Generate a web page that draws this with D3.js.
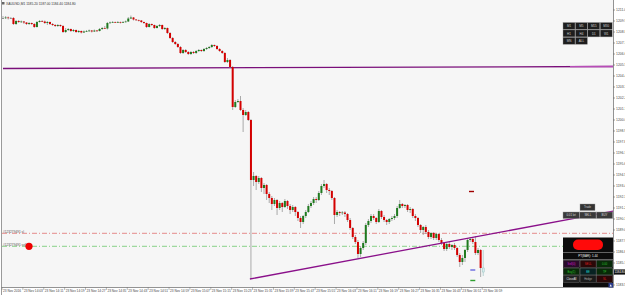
<!DOCTYPE html>
<html>
<head>
<meta charset="utf-8">
<script src="https://cdn.jsdelivr.net/npm/d3@7"></script>
<style>
  html, body { margin: 0; padding: 0; background: #fff; }
  svg { display: block; }
  text { font-family: "Liberation Sans", Arial, sans-serif; }
</style>
</head>
<body>
<svg id="chart" width="625" height="295"></svg>
<script>
// XAUUSD M1, 23 Nov 2016 - one value per 1 minute bar
var closes = [
  1210.2, 1210.25, 1210.2, 1210.2, 1209.6, 1209.9, 1209.8, 1209.85, 1209.75, 1209.6,
  1209.7, 1209.6, 1209.3, 1209.8, 1209.9, 1209.85, 1209.7, 1209.8, 1209.6, 1209.5,
  1209.4, 1209.5, 1209.4, 1208.8, 1209.0, 1209.1, 1208.9, 1209.0, 1208.8, 1208.9,
  1208.75, 1208.85, 1208.9, 1208.95, 1208.85, 1208.95, 1208.9, 1209.1, 1209.2, 1209.15,
  1209.7, 1209.75, 1209.8, 1209.75, 1209.8, 1209.75, 1209.8, 1209.85, 1210.15, 1210.25,
  1210.05, 1210.0, 1209.95, 1209.8, 1209.7, 1209.3, 1209.6, 1209.5, 1209.2, 1209.4,
  1209.5, 1209.1, 1209.2, 1208.7, 1208.2, 1207.8, 1207.6, 1207.3, 1206.7, 1207.0,
  1206.8, 1206.6, 1206.8, 1206.7, 1206.9, 1207.0, 1206.9, 1207.1, 1207.2, 1207.3,
  1207.5, 1207.4, 1207.1, 1206.9, 1206.7, 1205.8, 1206.0, 1205.3, 1201.3, 1201.8,
  1201.9, 1201.0, 1200.5, 1200.8, 1200.0, 1194.0, 1194.4, 1193.8, 1194.2, 1193.2,
  1193.5, 1192.6, 1192.2, 1191.6, 1192.0, 1191.2, 1191.7, 1191.3, 1191.9, 1191.4,
  1191.0, 1191.3, 1190.8, 1190.2, 1189.8, 1190.4, 1190.8, 1191.4, 1191.7, 1192.1,
  1192.0, 1192.7, 1193.4, 1193.6, 1193.0, 1192.9, 1192.2, 1190.5, 1190.8, 1190.7,
  1190.75, 1190.6, 1190.0, 1189.2, 1188.3, 1187.8, 1186.6, 1187.2, 1187.7, 1189.5,
  1189.9, 1190.4, 1190.2, 1189.8, 1190.9, 1190.3, 1190.0, 1189.8, 1190.1, 1190.2,
  1190.4, 1191.2, 1191.6, 1191.4, 1191.5, 1191.0, 1191.1, 1190.4, 1190.2, 1189.5,
  1189.0, 1189.3, 1188.8, 1188.3, 1188.7, 1188.2, 1188.6, 1188.0, 1187.7, 1187.1,
  1187.6, 1187.3, 1187.5, 1187.2, 1186.5, 1185.8, 1186.2, 1187.0, 1188.0, 1188.1,
  1187.8, 1186.7, 1187.0, 1185.2, 1184.8
];
var highs = [
  1210.4, 1210.4, 1210.35, 1210.3, 1210.3, 1210.0, 1210.0, 1209.95, 1209.9, 1209.8,
  1209.8, 1209.75, 1209.7, 1209.9, 1210.0, 1210.0, 1209.95, 1209.9, 1209.85, 1209.7,
  1209.6, 1209.6, 1209.55, 1209.5, 1209.2, 1209.2, 1209.15, 1209.1, 1209.05, 1209.0,
  1208.95, 1208.95, 1209.0, 1209.05, 1209.0, 1209.05, 1209.0, 1209.2, 1209.3, 1209.4,
  1209.8, 1209.85, 1209.9, 1209.85, 1209.9, 1209.85, 1209.9, 1209.95, 1210.3, 1210.45,
  1210.3, 1210.1, 1210.05, 1210.0, 1209.85, 1209.75, 1209.7, 1209.65, 1209.55, 1209.5,
  1209.6, 1209.55, 1209.3, 1209.25, 1208.8, 1208.3, 1207.9, 1207.7, 1207.4, 1207.1,
  1207.1, 1206.9, 1206.9, 1206.9, 1207.0, 1207.1, 1207.05, 1207.2, 1207.3, 1207.4,
  1207.6, 1207.55, 1207.5, 1207.2, 1207.0, 1206.8, 1206.2, 1206.1, 1205.4, 1202.0,
  1202.1, 1202.4, 1201.2, 1201.0, 1200.9, 1200.1, 1194.8, 1194.5, 1194.4, 1194.3,
  1193.7, 1193.6, 1192.8, 1192.4, 1192.2, 1192.1, 1191.9, 1191.8, 1192.1, 1192.0,
  1191.6, 1191.5, 1191.4, 1190.9, 1190.4, 1190.5, 1191.0, 1191.6, 1191.9, 1192.3,
  1192.3, 1192.9, 1193.6, 1194.0, 1193.7, 1193.2, 1193.0, 1192.3, 1191.0, 1190.9,
  1190.9, 1190.9, 1190.7, 1190.2, 1189.3, 1188.5, 1188.0, 1187.4, 1187.9, 1189.7,
  1190.1, 1190.6, 1190.6, 1190.3, 1191.1, 1191.0, 1190.5, 1190.1, 1190.2, 1190.4,
  1190.6, 1191.4, 1192.0, 1191.7, 1191.6, 1191.6, 1191.3, 1191.2, 1190.6, 1190.3,
  1189.6, 1189.4, 1189.5, 1189.0, 1188.8, 1188.8, 1188.7, 1188.7, 1188.2, 1187.8,
  1187.7, 1187.8, 1187.6, 1187.7, 1187.3, 1186.7, 1186.5, 1187.1, 1188.2, 1188.3,
  1188.3, 1188.4, 1187.2, 1187.1, 1187.0
];
var lows = [
  1210.1, 1210.1, 1210.05, 1210.1, 1209.5, 1209.5, 1209.7, 1209.7, 1209.6, 1209.5,
  1209.5, 1209.5, 1209.2, 1209.25, 1209.75, 1209.8, 1209.6, 1209.5, 1209.5, 1209.4,
  1209.3, 1209.3, 1209.3, 1208.7, 1208.7, 1208.9, 1208.8, 1208.8, 1208.7, 1208.7,
  1208.65, 1208.7, 1208.8, 1208.8, 1208.75, 1208.8, 1208.8, 1208.85, 1209.0, 1209.1,
  1209.05, 1209.65, 1209.7, 1209.7, 1209.7, 1209.65, 1209.7, 1209.75, 1209.8, 1210.1,
  1209.95, 1209.9, 1209.85, 1209.7, 1209.6, 1209.2, 1209.25, 1209.4, 1209.1, 1209.15,
  1209.3, 1209.0, 1209.0, 1208.6, 1208.1, 1207.7, 1207.5, 1207.2, 1206.6, 1206.6,
  1206.7, 1206.5, 1206.5, 1206.6, 1206.6, 1206.8, 1206.8, 1206.8, 1207.0, 1207.1,
  1207.2, 1207.3, 1207.0, 1206.8, 1206.6, 1205.7, 1205.7, 1205.2, 1201.0, 1201.2,
  1201.7, 1200.9, 1198.8, 1200.4, 1199.9, 1184.1, 1193.4, 1193.0, 1193.6, 1192.8,
  1192.6, 1192.0, 1191.7, 1191.0, 1191.4, 1190.5, 1191.0, 1190.8, 1191.2, 1191.1,
  1190.6, 1190.8, 1190.4, 1189.9, 1189.2, 1189.6, 1190.2, 1190.7, 1191.2, 1191.5,
  1191.7, 1191.9, 1192.5, 1193.2, 1192.7, 1192.5, 1192.0, 1189.6, 1190.3, 1190.4,
  1190.5, 1190.3, 1189.8, 1189.0, 1188.1, 1187.6, 1186.2, 1186.3, 1187.0, 1187.5,
  1189.3, 1189.7, 1190.0, 1189.6, 1189.7, 1190.1, 1189.8, 1189.5, 1189.6, 1189.9,
  1190.0, 1190.2, 1191.1, 1191.2, 1191.2, 1190.8, 1190.7, 1190.2, 1189.9, 1189.3,
  1188.7, 1188.5, 1188.6, 1188.1, 1188.1, 1188.0, 1188.0, 1187.8, 1187.5, 1186.9,
  1186.9, 1187.1, 1187.0, 1187.0, 1186.3, 1185.3, 1185.5, 1185.8, 1186.8, 1187.8,
  1187.6, 1186.5, 1186.5, 1184.3, 1184.4
];
var firstOpen = 1210.2;

var priceTicks = [1211.0, 1209.9, 1208.8, 1207.7, 1206.6, 1205.5, 1204.4, 1203.3, 1202.2,
  1201.1, 1200.0, 1198.9, 1197.8, 1196.7, 1195.6, 1194.5, 1193.4, 1192.3, 1191.2,
  1190.1, 1189.0, 1187.9, 1186.8, 1185.7, 1184.6, 1183.5];
var bidPrice = 1184.80;

var timeTickBars = [0, 8, 16, 24, 32, 40, 48, 56, 64, 72, 80, 88, 96, 104, 112, 120,
  128, 136, 144, 152, 160, 168, 176, 184];
var timeLabels = ['23 Nov 2016', '23 Nov 14:03', '23 Nov 14:11', '23 Nov 14:19',
  '23 Nov 14:27', '23 Nov 14:35', '23 Nov 14:43', '23 Nov 14:51', '23 Nov 14:59',
  '23 Nov 15:07', '23 Nov 15:15', '23 Nov 15:23', '23 Nov 15:31', '23 Nov 15:39',
  '23 Nov 15:47', '23 Nov 15:55', '23 Nov 16:03', '23 Nov 16:11', '23 Nov 16:19',
  '23 Nov 16:27', '23 Nov 16:35', '23 Nov 16:43', '23 Nov 16:51', '23 Nov 16:59'];

// drawn objects (bar index, price)
var hLine = [[0, 1205.15], [234, 1205.35]];
var trendLine = [[94.6, 1184.1], [234, 1190.9]];
var slPrice = 1188.67, entryPrice = 1187.37;
var orderLabels = ['#123279491 sl', '#123279491 sell'];
var markers = [[179.5, 1192.85, '#a00000'], [180, 1185.0, '#6a6ae0'], [180, 1183.95, '#30a030']];

var tfButtons = ['M1', 'M5', 'M15', 'M30', 'H1', 'H4', 'D1', 'W1', 'MN', 'ALL'];

var svg = d3.select('#chart');
var plotR = 613, plotB = 287;

var x = d3.scaleLinear().domain([0, 100]).range([3, 264]);
var y = d3.scaleLinear().domain([1212, 1183.3]).range([0, 287]);

var bars = closes.map(function(c, i){
    return {i: i, o: i === 0 ? firstOpen : closes[i - 1], h: highs[i], l: lows[i], c: c};
});

svg.append('rect').attr('width', 625).attr('height', 295).attr('fill', '#fff');
svg.append('rect').attr('x', 2).attr('y', 0).attr('width', plotR - 2).attr('height', plotB)
    .attr('fill', '#f6f6f6');

var clip = svg.append('clipPath').attr('id', 'plotclip');
clip.append('rect').attr('x', 2).attr('y', 0).attr('width', plotR - 2).attr('height', plotB);
var plot = svg.append('g').attr('clip-path', 'url(#plotclip)');

// horizontal purple line (slightly tilted)
plot.append('line')
    .attr('x1', x(hLine[0][0])).attr('y1', y(hLine[0][1]))
    .attr('x2', x(hLine[1][0])).attr('y2', y(hLine[1][1]))
    .attr('stroke', '#7a0f7a').attr('stroke-width', 1.3);
plot.append('line')
    .attr('x1', 570).attr('y1', y(hLine[0][1]) + (y(hLine[1][1]) - y(hLine[0][1])) * (570 - x(hLine[0][0])) / (x(hLine[1][0]) - x(hLine[0][0])))
    .attr('x2', x(hLine[1][0])).attr('y2', y(hLine[1][1]))
    .attr('stroke', '#b84cb8').attr('stroke-width', 1.3);

// order lines
plot.append('line').attr('x1', 2).attr('x2', plotR)
    .attr('y1', y(slPrice)).attr('y2', y(slPrice))
    .attr('stroke', '#e07070').attr('stroke-width', 0.8).attr('stroke-dasharray', '5,2,1,2');
plot.append('line').attr('x1', 2).attr('x2', plotR)
    .attr('y1', y(entryPrice)).attr('y2', y(entryPrice))
    .attr('stroke', '#6cc86c').attr('stroke-width', 0.8).attr('stroke-dasharray', '5,2,1,2');

plot.append('text').attr('x', 3).attr('y', y(slPrice) - 0.3)
    .attr('font-size', 3.2).attr('fill', '#555').text(orderLabels[0]);
plot.append('text').attr('x', 3).attr('y', y(entryPrice) - 0.3)
    .attr('font-size', 3.2).attr('fill', '#555').text(orderLabels[1]);
plot.append('circle').attr('cx', 29).attr('cy', y(entryPrice)).attr('r', 3.6).attr('fill', '#ee0000');

// candles
var last = bars.length - 1;
plot.selectAll('line.wick').data(bars).enter().append('line')
    .attr('class', 'wick')
    .attr('x1', function(d){ return x(d.i); }).attr('x2', function(d){ return x(d.i); })
    .attr('y1', function(d){ return y(d.h); }).attr('y2', function(d){ return y(d.l); })
    .attr('stroke', function(d){ return d.i === last ? '#9cc4c4' : '#8a8a8a'; })
    .attr('stroke-width', 0.7);

plot.selectAll('rect.body').data(bars).enter().append('rect')
    .attr('class', 'body')
    .attr('x', function(d){ return x(d.i) - 1; })
    .attr('width', 2)
    .attr('y', function(d){ return y(Math.max(d.o, d.c)); })
    .attr('height', function(d){ return Math.max(0.7, Math.abs(y(d.o) - y(d.c))); })
    .attr('fill', function(d){
        if(d.i === last) return '#d8eeee';
        if(d.c > d.o) return '#1f7a1f';
        if(d.c < d.o) return '#d40000';
        return '#777';
    })
    .attr('stroke', function(d){ return d.i === last ? '#9cc4c4' : 'none'; })
    .attr('stroke-width', 0.5);

// trend line
plot.append('line')
    .attr('x1', x(trendLine[0][0])).attr('y1', y(trendLine[0][1]))
    .attr('x2', x(trendLine[1][0])).attr('y2', y(trendLine[1][1]))
    .attr('stroke', '#8a108a').attr('stroke-width', 1.3);

// small markers
plot.selectAll('rect.mark').data(markers).enter().append('rect')
    .attr('x', function(d){ return x(d[0]) - 2.5; }).attr('y', function(d){ return y(d[1]) - 0.7; })
    .attr('width', 5).attr('height', 1.4).attr('fill', function(d){ return d[2]; });

// title
svg.append('rect').attr('x', 2).attr('y', 2).attr('width', 2.5).attr('height', 2.5).attr('fill', '#666');
svg.append('text').attr('x', 6).attr('y', 5.2).attr('font-size', 3.3).attr('fill', '#333')
    .text('XAUUSD,M1  1185.20 1187.00 1184.40 1184.80');

// axes borders
svg.append('line').attr('x1', 1.5).attr('x2', 1.5).attr('y1', 0).attr('y2', 295).attr('stroke', '#9a9a9a');
svg.append('line').attr('x1', plotR + 0.5).attr('x2', plotR + 0.5).attr('y1', 0).attr('y2', plotB + 0.5)
    .attr('stroke', '#777').attr('stroke-width', 0.8);
svg.append('line').attr('x1', 1.5).attr('x2', plotR + 0.5).attr('y1', plotB + 0.5).attr('y2', plotB + 0.5)
    .attr('stroke', '#777').attr('stroke-width', 0.8);

// price axis (the tick hidden behind the bid label is skipped)
var shownTicks = priceTicks.filter(function(d){ return Math.abs(y(d) - y(bidPrice)) > 4; });
var yAxis = svg.append('g');
yAxis.selectAll('line').data(priceTicks).enter().append('line')
    .attr('x1', plotR).attr('x2', plotR + 2)
    .attr('y1', function(d){ return y(d); }).attr('y2', function(d){ return y(d); })
    .attr('stroke', '#666').attr('stroke-width', 0.6);
yAxis.selectAll('text').data(shownTicks).enter().append('text')
    .attr('x', plotR + 3).attr('y', function(d){ return y(d) + 1.2; })
    .attr('font-size', 3.4).attr('fill', '#444')
    .text(function(d){ return d.toFixed(1); });
svg.append('rect').attr('x', plotR + 1).attr('y', y(bidPrice) - 2.6).attr('width', 12).attr('height', 5.2).attr('fill', '#111');
svg.append('text').attr('x', plotR + 1.6).attr('y', y(bidPrice) + 1.1).attr('font-size', 2.9).attr('fill', '#fff')
    .text(bidPrice.toFixed(2));

// time axis
var xAxis = svg.append('g');
xAxis.selectAll('line').data(timeTickBars).enter().append('line')
    .attr('x1', function(d){ return x(d) - 1; }).attr('x2', function(d){ return x(d) - 1; })
    .attr('y1', plotB).attr('y2', plotB + 3)
    .attr('stroke', '#777').attr('stroke-width', 0.5);
xAxis.selectAll('text').data(timeTickBars).enter().append('text')
    .attr('x', function(d){ return x(d); }).attr('y', plotB + 4.6)
    .attr('font-size', 3.2).attr('fill', '#444')
    .text(function(d, i){ return timeLabels[i]; });

// timeframe buttons, top right
var btn = svg.append('g');
tfButtons.forEach(function(t, k){
    var col = k % 4, row = Math.floor(k / 4);
    var bx = 563 + col * 12.4, by = 22.5 + row * 7.4;
    btn.append('rect').attr('x', bx).attr('y', by).attr('width', 12).attr('height', 7)
        .attr('fill', '#1e1e1e').attr('stroke', '#9a9a9a').attr('stroke-width', 0.4);
    btn.append('text').attr('x', bx + 6).attr('y', by + 4.6).attr('text-anchor', 'middle')
        .attr('font-size', 3).attr('fill', '#cfcfcf').text(t);
});

// trade panel, bottom right
var tp = svg.append('g');
tp.append('rect').attr('x', 580).attr('y', 204).attr('width', 15).attr('height', 6.5)
    .attr('fill', '#333').attr('stroke', '#999').attr('stroke-width', 0.4);
tp.append('text').attr('x', 587.5).attr('y', 208.4).attr('text-anchor', 'middle')
    .attr('font-size', 2.8).attr('fill', '#ccc').text('Trade');
var row0 = ['0.01 lot', 'SELL', 'BUY'];
row0.forEach(function(t, k){
    var bx = 563 + k * 16.7;
    tp.append('rect').attr('x', bx).attr('y', 212).attr('width', 16.3).attr('height', 6.5)
        .attr('fill', '#3a3a3a').attr('stroke', '#999').attr('stroke-width', 0.4);
    tp.append('text').attr('x', bx + 8.1).attr('y', 216.4).attr('text-anchor', 'middle')
        .attr('font-size', 2.8).attr('fill', '#ddd').text(t);
});

tp.append('rect').attr('x', 563).attr('y', 237.5).attr('width', 50).attr('height', 49.5).attr('fill', '#0c0c0c');
tp.append('rect').attr('x', 573).attr('y', 239.5).attr('width', 30).attr('height', 10.5).attr('rx', 5)
    .attr('fill', '#ff0a0a');
tp.append('line').attr('x1', 563).attr('x2', 613).attr('y1', 252.5).attr('y2', 252.5).attr('stroke', '#bbb').attr('stroke-width', 0.5);
tp.append('text').attr('x', 588).attr('y', 257.3).attr('text-anchor', 'middle')
    .attr('font-size', 3).attr('fill', '#eee').text('PT(BAR): 1.44');
tp.append('line').attr('x1', 563).attr('x2', 613).attr('y1', 259.5).attr('y2', 259.5).attr('stroke', '#bbb').attr('stroke-width', 0.5);

var panelRows = [
    [['Sell(0)', '#d020d0', '#2a0a2a'], ['SELL', '#e02020', '#2a0808'], ['0.00', '#30c030', '#082a08']],
    [['Buy(1)', '#30c030', '#082a08'], ['BE', '#20d0d0', '#082222'], ['TP', '#30c030', '#082a08']],
    [['CloseAll', '#e8e8e8', '#222'], ['Hedge', '#aaa', '#1a1a1a'], ['SL', '#e02020', '#2a0808']]
];
panelRows.forEach(function(r, ri){
    r.forEach(function(cell, ci){
        var bx = 563.5 + ci * 16.6, by = 260.5 + ri * 7.6;
        tp.append('rect').attr('x', bx).attr('y', by).attr('width', 16).attr('height', 6.8)
            .attr('fill', cell[2]).attr('stroke', '#777').attr('stroke-width', 0.4);
        tp.append('text').attr('x', bx + 8).attr('y', by + 4.5).attr('text-anchor', 'middle')
            .attr('font-size', 2.7).attr('fill', cell[1]).text(cell[0]);
    });
});
tp.append('rect').attr('x', 608.5).attr('y', 283).attr('width', 4.5).attr('height', 4.5).attr('fill', '#2a3a8a');
tp.append('path').attr('d', 'M609.7,286.4 L610.75,284.2 L611.8,286.4 Z').attr('fill', '#fff');
</script>
</body>
</html>
